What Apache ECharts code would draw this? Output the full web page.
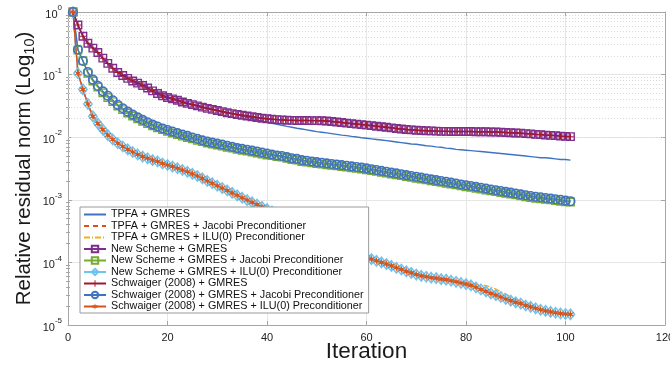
<!DOCTYPE html>
<html>
<head>
<meta charset="utf-8">
<script src="https://cdn.jsdelivr.net/npm/echarts@6/dist/echarts.min.js"></script>
<style>
  html, body { margin: 0; padding: 0; background: #fff; overflow: hidden; }
  #chart { width: 670px; height: 366px; }
</style>
</head>
<body>
<div id="chart"></div>
<script>
// residual values per iteration (iterations 1..101)
const gmresNew = [1.0,0.62,0.41,0.316,0.265,0.225,0.183,0.151,0.126,0.108,
  0.097,0.087,0.079,0.073,0.067,0.061,0.055,0.050,0.046,0.043,
  0.041,0.039,0.0365,0.0347,0.0332,0.0317,0.0302,0.0289,0.0278,0.0267,
  0.0256,0.0246,0.0238,0.0231,0.0224,0.0218,0.0212,0.0206,0.0201,0.0197,
  0.0194,0.0191,0.0189,0.0187,0.0186,0.0185,0.0185,0.0185,0.0184,0.0184,
  0.0183,0.0181,0.0178,0.0175,0.0172,0.0168,0.0165,0.0162,0.0159,0.0156,
  0.0153,0.0150,0.0147,0.0144,0.0141,0.0138,0.0135,0.0133,0.0131,0.0129,
  0.0128,0.0127,0.0126,0.0125,0.0124,0.0124,0.0123,0.0123,0.0123,0.0123,
  0.0123,0.0122,0.0122,0.0122,0.0121,0.0121,0.0120,0.0119,0.0118,0.0117,
  0.0116,0.0114,0.0113,0.0111,0.0110,0.0108,0.0107,0.0106,0.0104,0.0103,
  0.0102]
const gmresSchw = gmresNew

const gmresTpfa = [1.0,0.62,0.41,0.316,0.265,0.225,0.183,0.151,0.126,0.108,
  0.097,0.087,0.079,0.073,0.067,0.061,0.055,0.050,0.046,0.043,
  0.041,0.039,0.0365,0.0347,0.0332,0.0317,0.0302,0.0289,0.0278,0.0267,
  0.0256,0.0246,0.0238,0.0228,0.0218,0.0208,0.0199,0.0190,0.0182,0.0174,
  0.0167,0.0161,0.0155,0.0149,0.0144,0.0139,0.0135,0.0131,0.0127,0.0123,
  0.0120,0.0117,0.0114,0.0111,0.0108,0.0106,0.0103,0.0101,0.0098,0.0096,
  0.0094,0.0092,0.0090,0.0088,0.0086,0.0084,0.0082,0.0080,0.0078,0.0077,
  0.0075,0.0073,0.0072,0.0070,0.0069,0.0067,0.0066,0.0064,0.0063,0.0062,
  0.0061,0.0060,0.0059,0.0058,0.0057,0.0056,0.0055,0.0054,0.0053,0.0052,
  0.0051,0.0050,0.0049,0.0048,0.0047,0.0047,0.0046,0.0045,0.0044,0.0044,
  0.0043]

const jacobiSchw = [1.0,0.25,0.165,0.110,0.083,0.066,0.054,0.046,0.039,0.0330,
  0.0290,0.0256,0.0229,0.0207,0.0189,0.0173,0.0159,0.0148,0.0138,0.0130,
  0.0123,0.0116,0.0110,0.0105,0.0099,0.0094,0.0089,0.0085,0.0082,0.0079,
  0.0076,0.0073,0.0070,0.0067,0.0065,0.0063,0.0061,0.0059,0.0057,0.0055,
  0.0053,0.0051,0.0050,0.0048,0.0046,0.0045,0.0043,0.0042,0.0041,0.0040,
  0.00390,0.00382,0.00374,0.00366,0.00358,0.00350,0.00342,0.00334,0.00326,0.00318,
  0.00308,0.00299,0.00290,0.00281,0.00272,0.00264,0.00256,0.00248,0.00240,0.00233,
  0.00226,0.00219,0.00212,0.00206,0.00200,0.00194,0.00188,0.00182,0.00176,0.00171,
  0.00166,0.00161,0.00156,0.00151,0.00146,0.00142,0.00138,0.00134,0.00130,0.00126,
  0.00122,0.00118,0.00115,0.00112,0.00110,0.00107,0.00105,0.00102,0.00100,0.00097,
  0.00095]

const jacobiNew = [1.0,0.247,0.166,0.105,0.079,0.063,0.051,0.043,0.037,0.0315,
  0.0276,0.0243,0.0218,0.0197,0.0180,0.0165,0.0152,0.0141,0.0132,0.0124,
  0.0117,0.0110,0.0104,0.0099,0.0094,0.0089,0.0085,0.0081,0.0078,0.0075,
  0.0072,0.0069,0.0067,0.0064,0.0062,0.0060,0.0058,0.0056,0.0054,0.0052,
  0.0051,0.0049,0.0048,0.0046,0.0044,0.0043,0.0041,0.0040,0.0039,0.0038,
  0.00372,0.00364,0.00356,0.00348,0.00340,0.00333,0.00325,0.00318,0.00310,0.00302,
  0.00293,0.00284,0.00276,0.00267,0.00259,0.00251,0.00243,0.00236,0.00228,0.00221,
  0.00215,0.00208,0.00201,0.00196,0.00190,0.00184,0.00179,0.00173,0.00167,0.00162,
  0.00158,0.00153,0.00148,0.00143,0.00139,0.00135,0.00131,0.00127,0.00124,0.00120,
  0.00116,0.00112,0.00109,0.00106,0.00104,0.00102,0.00100,0.00097,0.00095,0.00093,
  0.00092]

const iluSchw = [1.0,0.105,0.058,0.034,0.0215,0.0165,0.0132,0.0108,0.0092,0.0080,
  0.0071,0.0064,0.0058,0.0053,0.0049,0.0046,0.0043,0.0041,0.0038,0.0036,
  0.0034,0.0032,0.0030,0.0028,0.0026,0.0024,0.0022,0.00200,0.00184,0.00168,
  0.00154,0.00141,0.00129,0.00118,0.00108,0.00099,0.00091,0.00084,0.00077,0.00071,
  0.00065,0.00060,0.00055,0.00050,0.00046,0.00042,0.00038,0.00035,0.00032,0.00029,
  0.00027,0.00024,0.00022,0.00020,0.000185,0.000170,0.000155,0.000142,0.000130,0.000120,
  1.13e-4,1.06e-4,1.0e-4,9.4e-5,8.8e-5,8.2e-5,7.7e-5,7.2e-5,6.8e-5,6.4e-5,
  6.1e-5,5.9e-5,5.7e-5,5.6e-5,5.4e-5,5.3e-5,5.1e-5,4.9e-5,4.7e-5,4.5e-5,
  4.3e-5,4.0e-5,3.7e-5,3.45e-5,3.2e-5,3.0e-5,2.8e-5,2.6e-5,2.45e-5,2.3e-5,
  2.2e-5,2.05e-5,1.95e-5,1.85e-5,1.75e-5,1.68e-5,1.62e-5,1.57e-5,1.53e-5,1.50e-5,
  1.48e-5]
const iluNew = iluSchw
const jacobiTpfa = iluSchw

const iluTpfa = [1.0,0.105,0.058,0.034,0.0215,0.0165,0.0132,0.0108,0.0092,0.0080,
  0.0071,0.0064,0.0058,0.0053,0.0049,0.0046,0.0043,0.0041,0.0038,0.0036,
  0.0033,0.0030,0.0028,0.0026,0.0024,0.0022,0.00205,0.00187,0.00171,0.00157,
  0.00144,0.00132,0.00121,0.00111,0.00102,0.00095,0.00088,0.00082,0.00076,0.00071,
  0.00065,0.00060,0.00055,0.00050,0.00046,0.00042,0.00038,0.00035,0.00032,0.00029,
  0.00027,0.00024,0.00022,0.00020,0.000185,0.000170,0.000155,0.000142,0.000130,0.000120,
  1.14e-4,1.09e-4,1.04e-4,9.9e-5,9.3e-5,8.8e-5,8.2e-5,7.7e-5,7.2e-5,6.7e-5,
  6.3e-5,6.0e-5,5.8e-5,5.7e-5,5.5e-5,5.4e-5,5.2e-5,5.0e-5,4.8e-5,4.7e-5,
  4.6e-5,4.5e-5,4.4e-5,4.25e-5,4.05e-5,3.75e-5,3.4e-5,3.1e-5,2.85e-5,2.6e-5,
  2.4e-5,2.2e-5,2.02e-5,1.88e-5,1.76e-5,1.68e-5,1.62e-5,1.57e-5,1.53e-5,1.50e-5,
  1.48e-5]

const seriesNames = [
  'TPFA + GMRES',
  'TPFA + GMRES + Jacobi Preconditioner',
  'TPFA + GMRES + ILU(0) Preconditioner',
  'New Scheme + GMRES',
  'New Scheme + GMRES + Jacobi Preconditioner',
  'New Scheme + GMRES + ILU(0) Preconditioner',
  'Schwaiger (2008) + GMRES',
  'Schwaiger (2008) + GMRES + Jacobi Preconditioner',
  'Schwaiger (2008) + GMRES + ILU(0) Preconditioner'
]
const xTicks = [0, 20, 40, 60, 80, 100, 120]
const yDecades = [1e-5, 1e-4, 1e-3, 1e-2, 1e-1, 1]

// minor log positions 2..9 x 10^k, used for dotted grid and small ticks
const minorVals = []
for (let k = -5; k < 0; k++) {
  for (let m = 2; m <= 9; m++) minorVals.push(m * Math.pow(10, k))
}

const plusPath = 'path://M-0.6,-4H0.6V-0.6H4V0.6H0.6V4H-0.6V0.6H-4V-0.6H-0.6Z'
const starPath = 'path://M0,-4.5L0.75,-1.3L3.9,-2.25L1.5,0L3.9,2.25L0.75,1.3L0,4.5L-0.75,1.3L-3.9,2.25L-1.5,0L-3.9,-2.25L-0.75,-1.3Z'

function mk(name, vals, color, opt) {
  opt = opt || {}
  return {
    name: name,
    type: 'line',
    data: vals.map((v, i) => [i + 1, v]),
    showSymbol: !!opt.symbol,
    symbol: opt.symbol || 'none',
    symbolSize: opt.size || 7,
    symbolKeepAspect: true,
    lineStyle: { color: color, width: opt.width || 1.4, type: opt.dash || 'solid' },
    itemStyle: opt.hollow
      ? { color: 'rgba(255,255,255,0)', borderColor: color, borderWidth: opt.bw || 1.2 }
      : { color: color, borderWidth: 0 },
    emphasis: { disabled: true },
    silent: true,
    z: 2
  }
}

const series = [
  mk(seriesNames[0], gmresTpfa, '#3f73c2'),
  mk(seriesNames[1], jacobiTpfa, '#d95319', { dash: [5, 4] }),
  mk(seriesNames[2], iluTpfa, '#edb120', { dash: [6, 2, 1, 2] }),
  mk(seriesNames[3], gmresNew, '#7e2f8e', { symbol: 'rect', size: 7.5, hollow: true, bw: 1.4 }),
  mk(seriesNames[4], jacobiNew, '#77ac30', { symbol: 'rect', size: 7.5, hollow: true, bw: 1.4 }),
  mk(seriesNames[5], iluNew, '#6cc4f0', { symbol: 'diamond', size: [8.5, 10.5], hollow: true, bw: 1.4 }),
  mk(seriesNames[6], gmresSchw, '#a2142f', { symbol: plusPath, size: 6.5 }),
  mk(seriesNames[7], jacobiSchw, '#3f73c2', { symbol: 'circle', size: 8.5, hollow: true, bw: 1.6 }),
  mk(seriesNames[8], iluSchw, '#d95319', { symbol: starPath, size: 9 })
]

// dotted minor grid
series[0].markLine = {
  silent: true,
  symbol: 'none',
  z: 1,
  animation: false,
  label: { show: false },
  lineStyle: { type: [1, 2], color: '#d9d9d9', width: 1 },
  emphasis: { disabled: true },
  data: minorVals.map(v => ({ yAxis: v }))
}

// legend entries; plain lines get no marker
const legendData = seriesNames.map((n, i) => i < 3 ? { name: n, itemStyle: { opacity: 0 } } : { name: n })

const font = 'Liberation Sans, Arial, Helvetica, sans-serif'
const axisCol = '#a6a6a6'

const yLog = {
  type: 'log',
  logBase: 10,
  min: yDecades[0],
  max: yDecades[yDecades.length - 1],
  interval: 1
}

const chart = echarts.init(document.getElementById('chart'), null, { renderer: 'canvas' })
chart.setOption({
  animation: false,
  backgroundColor: '#fff',
  textStyle: { fontFamily: font },
  grid: { left: 68, right: 5, top: 12, bottom: 41, outerBoundsMode: 'none', containLabel: false },
  legend: {
    orient: 'vertical',
    left: 80,
    top: 207,
    data: legendData,
    itemWidth: 22,
    itemHeight: 8,
    itemGap: 0.5,
    padding: [2, 5, 1, 3],
    backgroundColor: '#fff',
    borderColor: '#9a9a9a',
    borderWidth: 1,
    borderRadius: 0,
    selectedMode: false,
    textStyle: { fontSize: 10.8, color: '#111', fontFamily: font }
  },
  xAxis: [
    {
      type: 'value', min: 0, max: 120, interval: 20, position: 'bottom',
      axisLine: { show: true, onZero: false, lineStyle: { color: axisCol } },
      axisTick: { inside: true, length: 4, lineStyle: { color: axisCol } },
      axisLabel: { color: '#222', fontSize: 11, margin: 7, fontFamily: font,
        customValues: xTicks },
      splitLine: { show: true, lineStyle: { color: '#e6e6e6', width: 1 } },
      name: 'Iteration', nameLocation: 'middle', nameGap: 15, nameMoveOverlap: false,
      nameTextStyle: { fontSize: 22.5, color: '#1a1a1a', fontFamily: font }
    },
    {
      type: 'value', min: 0, max: 120, interval: 20, position: 'top',
      axisLine: { show: true, onZero: false, lineStyle: { color: axisCol } },
      axisTick: { inside: true, length: 4, lineStyle: { color: axisCol } },
      axisLabel: { show: false },
      splitLine: { show: false }
    }
  ],
  yAxis: [
    Object.assign({}, yLog, {
      position: 'left',
      axisLine: { show: true, onZero: false, lineStyle: { color: axisCol } },
      axisTick: { inside: true, length: 4, lineStyle: { color: axisCol } },
      axisLabel: {
        margin: 6,
        formatter: v => '{b|10}{s|' + Math.round(Math.log10(v)) + '}',
        rich: {
          b: { fontSize: 11, color: '#222', fontFamily: font, verticalAlign: 'bottom', lineHeight: 16 },
          s: { fontSize: 8, color: '#222', fontFamily: font, verticalAlign: 'top', lineHeight: 16, padding: [0, 0, 6, 0] }
        }
      },
      splitLine: { show: true, lineStyle: { color: '#e6e6e6', width: 1 } },
      name: 'Relative residual norm (Log{sub|10})',
      nameLocation: 'middle',
      nameGap: 31,
      nameMoveOverlap: false,
      nameTextStyle: {
        fontSize: 20.5, color: '#1a1a1a', fontFamily: font,
        rich: { sub: { fontSize: 14.5, color: '#1a1a1a', fontFamily: font, padding: [11, 0, 0, 0] } }
      }
    }),
    Object.assign({}, yLog, {
      position: 'right',
      axisLine: { show: true, onZero: false, lineStyle: { color: axisCol } },
      axisTick: { inside: true, length: 4, lineStyle: { color: axisCol } },
      axisLabel: { show: false },
      splitLine: { show: false }
    }),
    Object.assign({}, yLog, {
      position: 'left',
      axisLine: { show: false },
      axisTick: { inside: true, length: 2, customValues: minorVals, lineStyle: { color: axisCol } },
      axisLabel: { show: false },
      splitLine: { show: false }
    }),
    Object.assign({}, yLog, {
      position: 'right',
      axisLine: { show: false },
      axisTick: { inside: true, length: 2, customValues: minorVals, lineStyle: { color: axisCol } },
      axisLabel: { show: false },
      splitLine: { show: false }
    })
  ],
  series: series
})
</script>
</body>
</html>
